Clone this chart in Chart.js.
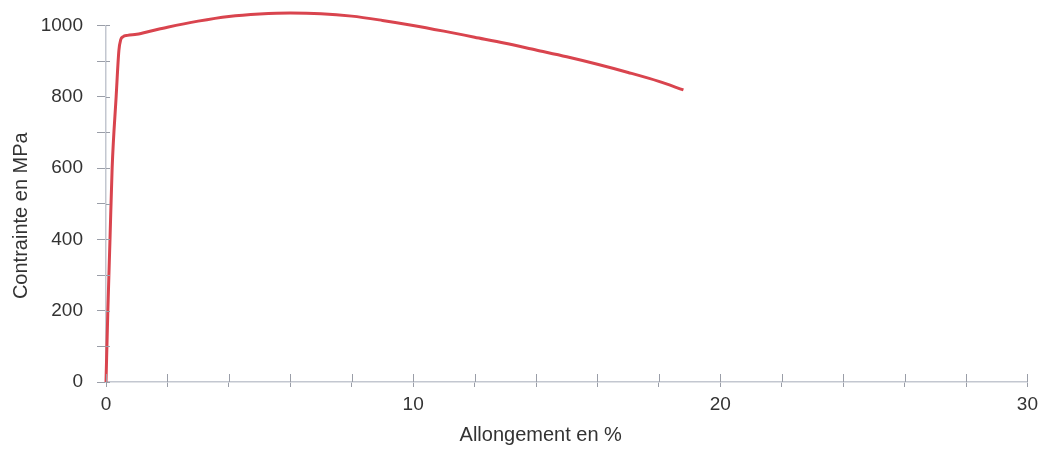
<!DOCTYPE html>
<html>
<head>
<meta charset="utf-8">
<style>
  html, body { margin: 0; padding: 0; background: #ffffff; }
  #wrap { width: 1044px; height: 449px; position: relative; }
</style>
<script src="https://cdn.jsdelivr.net/npm/chart.js@4.4.1/dist/chart.umd.min.js"></script>
</head>
<body>
<div id="wrap"><canvas id="c" width="1044" height="449"></canvas></div>
<script>
// Tensile test: elongation (%) vs. stress (MPa)
const strain = [0, 0.06, 0.13, 0.2, 0.33, 0.42, 0.48, 0.55, 0.7, 1.0, 1.5, 2, 3, 4, 5, 6, 7, 8, 9, 10, 11, 12, 13, 14, 15, 16, 17, 18, 18.8];
const stress = [0, 200, 400, 600, 800, 930, 960, 968, 972, 975, 985, 995, 1012, 1025, 1032, 1035, 1033, 1026, 1014, 1000, 984, 967, 950, 931, 912, 891, 868, 843, 819];

const xTicks = [0, 10, 20, 30];
const yTicks = [0, 200, 400, 600, 800, 1000];
const xTitle = 'Allongement en %';
const yTitle = 'Contrainte en MPa';

const points = strain.map((x, i) => ({ x: x, y: stress[i] }));

const FONT = "'Liberation Sans', Arial, sans-serif";
const AXIS_COLOR = '#c3c7d0';
const TICK_COLOR = '#9a9ea8';
const TEXT_COLOR = '#333333';

// Short tick marks that cross the axis lines, plus both axis titles
const axisDecor = {
  id: 'axisDecor',
  afterDraw(chart) {
    const ctx = chart.ctx;
    const xs = chart.scales.x, ys = chart.scales.y;
    const area = chart.chartArea;
    ctx.save();
    ctx.strokeStyle = TICK_COLOR;
    ctx.lineWidth = 1;
    ctx.beginPath();
    xs.ticks.forEach(t => {
      const px = Math.round(xs.getPixelForValue(t.value)) + 0.5;
      ctx.moveTo(px, area.bottom - 8);
      ctx.lineTo(px, area.bottom);
    });
    ys.ticks.forEach(t => {
      const py = Math.round(ys.getPixelForValue(t.value)) + 0.5;
      ctx.moveTo(area.left, py);
      ctx.lineTo(area.left + 4, py);
    });
    ctx.stroke();

    ctx.fillStyle = TEXT_COLOR;
    ctx.textAlign = 'center';
    ctx.textBaseline = 'middle';
    ctx.font = '20px ' + FONT;
    ctx.fillText(xTitle, (area.left + area.right) / 2 - 26, 435);

    ctx.translate(21, (area.top + area.bottom) / 2 + 12);
    ctx.rotate(-Math.PI / 2);
    ctx.fillText(yTitle, 0, 0);
    ctx.restore();
  }
};

new Chart(document.getElementById('c'), {
  type: 'line',
  data: {
    datasets: [{
      data: points,
      borderColor: '#d9444e',
      borderWidth: 3,
      pointRadius: 0,
      cubicInterpolationMode: 'monotone',
      fill: false,
      clip: false
    }]
  },
  options: {
    responsive: false,
    animation: false,
    devicePixelRatio: 1,
    layout: { padding: { top: 21, right: 13, left: 0, bottom: 0 } },
    plugins: { legend: { display: false }, tooltip: { enabled: false } },
    scales: {
      x: {
        type: 'linear',
        min: 0, max: 30,
        afterFit(scale) { scale.height = 67; },
        ticks: {
          stepSize: 2,
          autoSkip: false,
          maxRotation: 0,
          padding: 6,
          color: TEXT_COLOR,
          font: { family: FONT, size: 19 },
          callback: v => xTicks.includes(v) ? String(v) : ''
        },
        grid: { drawOnChartArea: false, drawTicks: true, tickLength: 5, color: TICK_COLOR },
        border: { display: true, color: AXIS_COLOR, width: 1.5 },
        title: { display: false, text: xTitle }
      },
      y: {
        type: 'linear',
        min: 0, max: 1000,
        afterFit(scale) { scale.width = 106; },
        ticks: {
          stepSize: 100,
          autoSkip: false,
          padding: 14,
          color: TEXT_COLOR,
          font: { family: FONT, size: 19 },
          callback: v => yTicks.includes(v) ? String(v) : ''
        },
        grid: { drawOnChartArea: false, drawTicks: true, tickLength: 9, color: TICK_COLOR },
        border: { display: true, color: AXIS_COLOR, width: 1.5 },
        title: { display: false, text: yTitle }
      }
    }
  },
  plugins: [axisDecor]
});
</script>
</body>
</html>
